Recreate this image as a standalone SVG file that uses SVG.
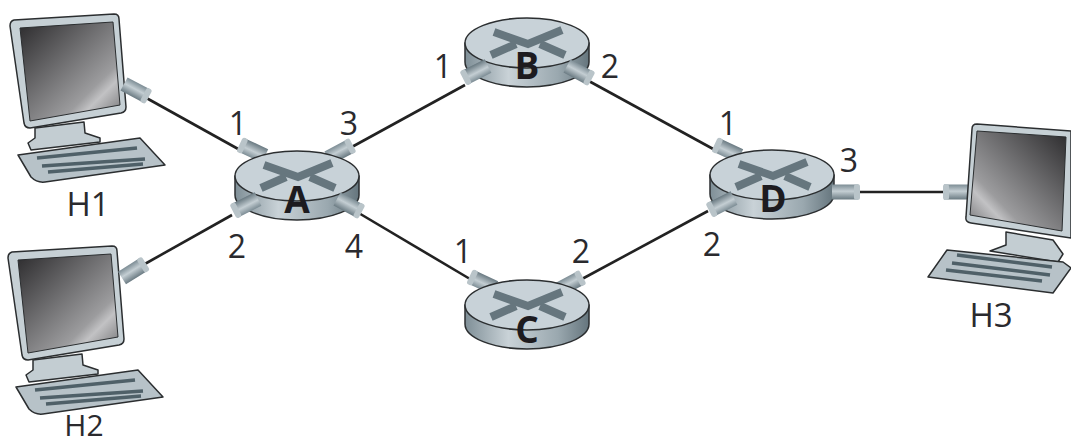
<svg xmlns="http://www.w3.org/2000/svg" width="1071" height="445" viewBox="0 0 1071 445">
<style>
text{font-family:"Open Sans","Noto Sans","Liberation Sans",sans-serif;fill:#2a2a2e;text-anchor:middle}
.p{font-size:32px}
.h{font-size:33px}
.r{font-size:37px;font-weight:700;fill:#1d1b1f}
.link{stroke:#222;stroke-width:2.6;fill:none}
.edge{stroke:#2b2e30;stroke-width:1.5;stroke-linejoin:round}
</style>
<defs>
<linearGradient id="side" x1="0" x2="1" y1="0" y2="0"><stop offset="0" stop-color="#7f8f97"/><stop offset=".35" stop-color="#c9d2d7"/><stop offset=".75" stop-color="#9aa8af"/><stop offset="1" stop-color="#65757d"/></linearGradient>
<linearGradient id="stub" x1="0" x2="0" y1="0" y2="1"><stop offset="0" stop-color="#7d8d95"/><stop offset=".45" stop-color="#c4ced3"/><stop offset="1" stop-color="#6a7a82"/></linearGradient>
<linearGradient id="scr" x1="0" y1="0" x2="1" y2="1"><stop offset="0" stop-color="#2c2b2d"/><stop offset=".7" stop-color="#9c9c9e"/><stop offset=".78" stop-color="#c2c2c4"/><stop offset="1" stop-color="#6c6c6e"/></linearGradient>
<linearGradient id="scr3" x1="1" y1="0" x2="0" y2="1"><stop offset="0" stop-color="#2c2b2d"/><stop offset=".7" stop-color="#9c9c9e"/><stop offset=".78" stop-color="#c2c2c4"/><stop offset="1" stop-color="#6c6c6e"/></linearGradient>
<g id="router">
<path class="edge" d="M-62 0V19A62 25 0 0 0 62 19V0Z" fill="url(#side)"/>
<ellipse class="edge" cx="0" cy="0" rx="62" ry="25" fill="#c8d2d8"/>
<path d="M-33 -11L1 1L35 -13" fill="none" stroke="#66767e" stroke-width="8"/>
<path d="M-36 12L-11 1M13 1L38 12" fill="none" stroke="#66767e" stroke-width="8"/>
</g>
<g id="port">
<rect x="0" y="-7.500" width="26" height="15" fill="url(#stub)"/>
<rect x="22" y="-8" width="6" height="16" rx="2.500" fill="#b9c4c9"/>
</g>
<g id="pc">
<path class="edge" d="M35 128L84 122L85 133L100 138L100 142L31 150L28 143L35 138Z" fill="#c3cdd2"/>
<path class="edge" d="M18 155L140 138L165 165L45 182Q37 183 31 177Z" fill="#b7c2c8"/>
<path d="M37 158L137 148M42 166L145 159M48 172L143 164" stroke="#4f6068" stroke-width="3.500"/>
<path class="edge" d="M14 20L114 14Q119 14 119 19L126 107Q126 112 121 113L30 128Q25 128 24 123L10 26Q10 21 14 20Z" fill="#c6d0d5"/>
<path d="M20 28L113 22L120 105L30 121Z" fill="url(#scr)" stroke="#2b2e30" stroke-width="1"/>
</g>
</defs>

<g id="connectors">
<path class="link" d="M141 95L240 150"/>
<path class="link" d="M143 265L232 215"/>
<path class="link" d="M350 148L465 85"/>
<path class="link" d="M357 212L470 279"/>
<path class="link" d="M587 80L715 150"/>
<path class="link" d="M582 279L708 211"/>
<path class="link" d="M857 192H944"/>
</g>

<g id="H1">
<use href="#pc"/>
<use href="#port" transform="translate(124,84) rotate(28)"/>
<text class="h" x="88" y="216">H1</text>
</g>
<g id="H2">
<use href="#pc" transform="translate(-2,232)"/>
<use href="#port" transform="translate(122,278) rotate(-32)"/>
<text x="84" y="436" style="font-size:30px">H2</text>
</g>
<g id="H3">
<path class="edge" d="M1006 232L1006 245L990 251L1058 262L1063 254L1053 240Z" fill="#c3cdd2"/>
<path class="edge" d="M947 250L1063 262L1071 268L1053 293L928 277Z" fill="#b7c2c8"/>
<path d="M957 255L1052 267M952 263L1050 275M946 270L1042 281" stroke="#4f6068" stroke-width="3.500"/>
<rect x="944" y="184.500" width="24" height="15" fill="url(#stub)"/>
<rect x="943" y="184" width="6" height="16" rx="2.500" fill="#b9c4c9"/>
<path class="edge" d="M977 124L1071 131V238L971 223Q965 222 966 217L972 129Q972 124 977 124Z" fill="#c6d0d5"/>
<path d="M977 131L1066 137L1062 231L970 215Z" fill="url(#scr3)" stroke="#2b2e30" stroke-width="1"/>
<text class="h" x="991" y="327">H3</text>
</g>

<g id="A">
<use href="#port" transform="translate(265,156) rotate(-155)"/>
<use href="#port" transform="translate(328,158) rotate(-28)"/>
<use href="#router" transform="translate(297,176)"/>
<use href="#port" transform="translate(258,199) rotate(153)"/>
<use href="#port" transform="translate(337,199) rotate(28)"/>
<text class="r" x="297" y="213">A</text>
<text class="p" x="238" y="135">1</text>
<text class="p" x="349" y="135">3</text>
<text class="p" x="237" y="258">2</text>
<text class="p" x="354" y="258">4</text>
</g>
<g id="B">
<use href="#router" transform="translate(527,43)"/>
<use href="#port" transform="translate(488,66) rotate(153)"/>
<use href="#port" transform="translate(567,66) rotate(28)"/>
<text class="r" x="527" y="79">B</text>
<text class="p" x="443" y="78">1</text>
<text class="p" x="610" y="78">2</text>
</g>
<g id="C">
<use href="#port" transform="translate(495,288) rotate(-155)"/>
<use href="#port" transform="translate(558,290) rotate(-28)"/>
<use href="#router" transform="translate(527,305)"/>
<text class="r" x="527" y="343">C</text>
<text class="p" x="463" y="263">1</text>
<text class="p" x="581" y="263">2</text>
</g>
<g id="D">
<use href="#port" transform="translate(740,156) rotate(-155)"/>
<use href="#router" transform="translate(772,175)"/>
<use href="#port" transform="translate(734,198) rotate(153)"/>
<use href="#port" transform="translate(832,192)"/>
<text class="r" x="773" y="212">D</text>
<text class="p" x="728" y="135">1</text>
<text class="p" x="849" y="172">3</text>
<text class="p" x="712" y="256">2</text>
</g>
</svg>
